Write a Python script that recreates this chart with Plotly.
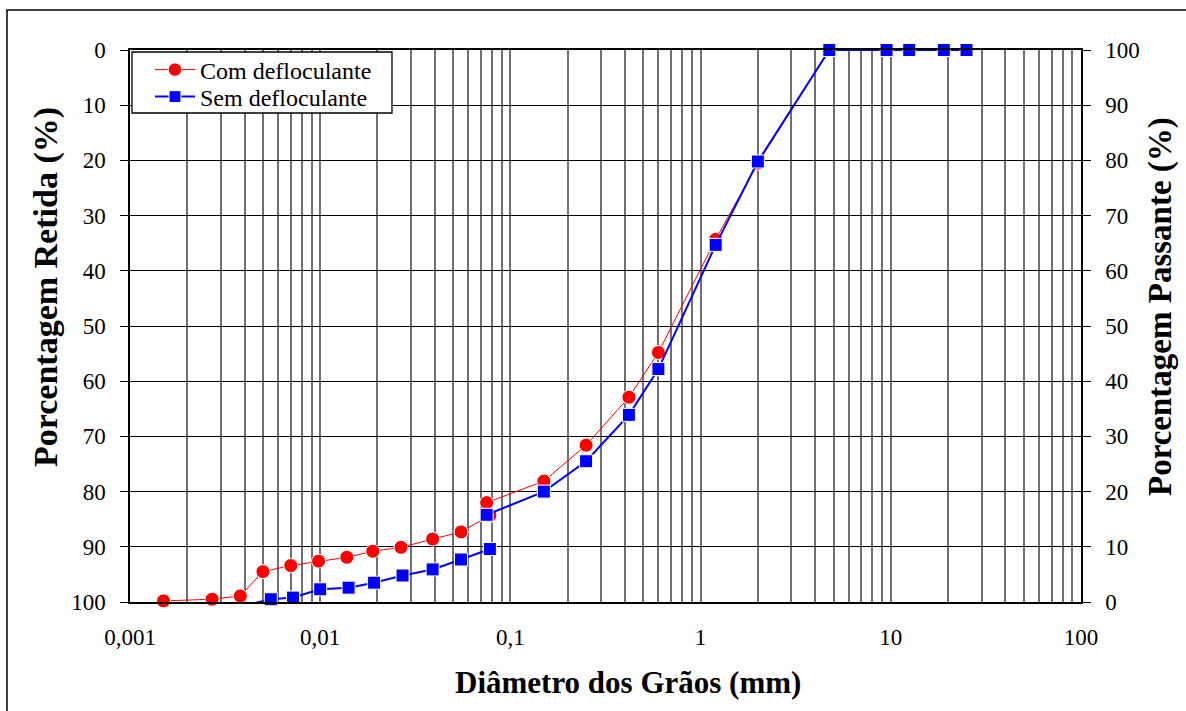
import plotly.graph_objects as go

# Curva granulométrica: sedimentação + peneiramento (diâmetro em mm, % passante)
sed_d_com = [0.0015, 0.0027, 0.0038, 0.0050, 0.0070, 0.0098, 0.0138, 0.0189, 0.0266, 0.039, 0.055, 0.078]
sed_p_com = [0.2, 0.5, 1.1, 5.5, 6.6, 7.4, 8.1, 9.2, 9.9, 11.4, 12.7, 15.7]
sed_d_sem = [0.0035, 0.0055, 0.0072, 0.010, 0.0141, 0.0192, 0.0271, 0.039, 0.055, 0.078]
sed_p_sem = [-1.1, 0.5, 0.8, 2.3, 2.6, 3.5, 4.8, 5.9, 7.7, 9.6]

pen_d = [0.075, 0.15, 0.25, 0.42, 0.6, 1.2, 2.0, 4.75, 9.5, 12.5, 19.0, 25.0]
pen_p_com = [18.0, 21.9, 28.4, 37.1, 45.2, 65.7, 79.5, 100, 100, 100, 100, 100]
pen_p_sem = [15.8, 20.0, 25.5, 33.9, 42.2, 64.7, 79.8, 100, 100, 100, 100, 100]

x_tickvals = [0.001, 0.01, 0.1, 1, 10, 100]
x_ticktext = ["0,001", "0,01", "0,1", "1", "10", "100"]
minor_vals = [k * 10.0 ** e for e in range(-3, 2) for k in range(2, 10)]
y_ticks = list(range(0, 101, 10))

FONT = "Liberation Serif"

L, R, T, B = 130, 105, 50, 109
W, H = 1186, 711
pw, ph = W - L - R, H - T - B


def px_x(p):
    return (p - L) / pw


def px_y(p):
    return (H - B - p) / ph


# marcadores só para pontos dentro da faixa 0-100 %
def marker_sizes(values, size):
    return [size if (v is not None and 0 <= v <= 100) else 0 for v in values]


y_com = sed_p_com + [None] + pen_p_com
y_sem = sed_p_sem + [None] + pen_p_sem

fig = go.Figure()

# eixo da esquerda (% retida) -- traço sem desenho, só para ativar o eixo
fig.add_trace(go.Scatter(
    x=pen_d, y=[100 - p for p in pen_p_sem], mode="none",
    showlegend=False, hoverinfo="skip", yaxis="y",
))

# segmentos separados (sedimentação / peneiramento)
fig.add_trace(go.Scatter(
    x=sed_d_com + [None] + pen_d,
    y=y_com,
    name="Com defloculante",
    mode="lines+markers",
    line=dict(color="#ff0000", width=1),
    marker=dict(symbol="circle", size=marker_sizes(y_com, 14), color="#ff0000",
                opacity=1, sizemode="diameter", sizeref=1),
    connectgaps=False,
    cliponaxis=False,
    yaxis="y2",
    legend="legend",
))
fig.add_trace(go.Scatter(
    x=sed_d_sem + [None] + pen_d,
    y=y_sem,
    name="Sem defloculante",
    mode="lines+markers",
    line=dict(color="#0000ff", width=2),
    marker=dict(symbol="square", size=marker_sizes(y_sem, 13), color="#0000ff",
                opacity=1, sizemode="diameter", sizeref=1),
    connectgaps=False,
    cliponaxis=False,
    yaxis="y2",
    legend="legend2",
))

leg_common = dict(
    xanchor="left", yanchor="middle",
    bgcolor="rgba(0,0,0,0)", borderwidth=0,
    font=dict(family=FONT, size=24, color="black"),
    itemwidth=40,
)

GRID_V = "#707070"

fig.update_layout(
    width=W, height=H,
    margin=dict(l=L, r=R, t=T, b=B),
    paper_bgcolor="white",
    plot_bgcolor="white",
    font=dict(family=FONT, size=23, color="black"),
    showlegend=True,
    legend=dict(x=px_x(150), y=px_y(70), **leg_common),
    legend2=dict(x=px_x(150), y=px_y(97), **leg_common),
    xaxis=dict(
        type="log", range=[-3, 2],
        tickmode="array", tickvals=x_tickvals, ticktext=x_ticktext,
        ticks="", showline=True, linecolor="black", linewidth=1.5, mirror=True,
        showgrid=True, gridcolor=GRID_V, gridwidth=1.8,
        minor=dict(tickmode="array", tickvals=minor_vals, showgrid=True,
                   gridcolor=GRID_V, gridwidth=1.8, ticks=""),
        tickfont=dict(family=FONT, size=23),
        ticklabelstandoff=14,
        zeroline=False,
    ),
    yaxis=dict(
        range=[100, 0], tickmode="array", tickvals=y_ticks,
        ticks="outside", ticklen=8, tickcolor="black", tickwidth=1.3,
        showline=True, linecolor="black", linewidth=1.5,
        showgrid=True, gridcolor="black", gridwidth=1.3,
        tickfont=dict(family=FONT, size=23),
        ticklabelstandoff=10,
        zeroline=False,
    ),
    yaxis2=dict(
        overlaying="y", side="right",
        range=[0, 100], tickmode="array", tickvals=y_ticks,
        ticks="outside", ticklen=8, tickcolor="black", tickwidth=1.3,
        showline=True, linecolor="black", linewidth=1.5,
        showgrid=False,
        tickfont=dict(family=FONT, size=23),
        ticklabelstandoff=10,
        zeroline=False,
    ),
    annotations=[
        dict(text="<b>Diâmetro dos Grãos (mm)</b>", xref="paper", yref="paper",
             x=px_x(628), y=px_y(682), xanchor="center", yanchor="middle",
             showarrow=False, font=dict(family=FONT, size=31)),
        dict(text="<b>Porcentagem Retida (%)</b>", xref="paper", yref="paper",
             x=px_x(46), y=px_y(287), xanchor="center", yanchor="middle",
             textangle=-90, showarrow=False, font=dict(family=FONT, size=34)),
        dict(text="<b>Porcentagem Passante (%)</b>", xref="paper", yref="paper",
             x=px_x(1160), y=px_y(307), xanchor="center", yanchor="middle",
             textangle=-90, showarrow=False, font=dict(family=FONT, size=33)),
    ],
    shapes=[
        # moldura externa
        dict(type="rect", xref="paper", yref="paper",
             x0=px_x(7), x1=px_x(W + 10), y0=px_y(H + 10), y1=px_y(10),
             line=dict(color="black", width=1.5), fillcolor="rgba(0,0,0,0)",
             layer="below"),
        # caixa da legenda
        dict(type="rect", xref="paper", yref="paper",
             x0=px_x(132), x1=px_x(392), y0=px_y(113), y1=px_y(52),
             line=dict(color="black", width=1.3), fillcolor="white",
             layer="above"),
    ],
)

fig.write_html("out.html")
